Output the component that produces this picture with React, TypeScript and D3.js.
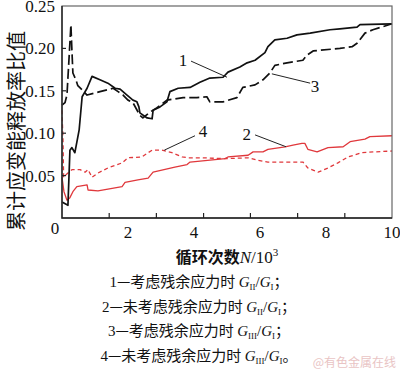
import React, { useEffect, useRef } from 'react';
import * as d3 from 'd3';

// cycles (10^3) and ratio values
const c1X = [0, 0.18, 0.24, 0.3, 0.39, 0.52, 0.61, 0.76, 0.91, 1.15, 1.39, 1.61, 1.76, 1.97, 2.15, 2.27, 2.33, 2.36, 2.58, 2.73, 2.76, 2.97, 3.18, 3.27, 3.52, 3.88, 4.18, 4.48, 4.88, 5.03, 5.39, 5.61, 5.85, 6.15, 6.24, 6.45, 6.82, 7.12, 7.52, 8.12, 8.42, 8.94, 9.03, 10];
const c1Y = [0.019, 0.015, 0.08, 0.083, 0.077, 0.104, 0.143, 0.153, 0.167, 0.163, 0.159, 0.153, 0.152, 0.145, 0.139, 0.137, 0.131, 0.124, 0.118, 0.117, 0.127, 0.131, 0.137, 0.149, 0.153, 0.154, 0.16, 0.165, 0.166, 0.172, 0.178, 0.183, 0.186, 0.195, 0.202, 0.21, 0.212, 0.216, 0.218, 0.222, 0.223, 0.225, 0.228, 0.229];

const c2X = [0, 0.06, 0.15, 0.24, 0.33, 0.45, 0.76, 0.79, 1.09, 1.52, 1.82, 1.91, 2.3, 2.61, 2.76, 3.42, 3.79, 3.88, 4.94, 5.03, 5.64, 5.79, 6.09, 6.24, 6.76, 7.0, 7.27, 7.36, 7.45, 7.73, 8.06, 8.52, 8.73, 9.18, 9.33, 10];
const c2Y = [0.048, 0.031, 0.021, 0.024, 0.031, 0.037, 0.039, 0.033, 0.032, 0.035, 0.037, 0.042, 0.045, 0.047, 0.054, 0.06, 0.063, 0.066, 0.07, 0.072, 0.074, 0.078, 0.078, 0.081, 0.084, 0.086, 0.088, 0.088, 0.081, 0.078, 0.083, 0.084, 0.09, 0.093, 0.096, 0.097];

const c3X = [0, 0.09, 0.15, 0.21, 0.27, 0.3, 0.33, 0.42, 0.48, 0.61, 0.76, 1.15, 1.55, 1.7, 1.85, 2.0, 2.15, 2.36, 2.45, 2.67, 2.88, 3.18, 3.67, 4.09, 4.39, 4.48, 4.88, 5.3, 5.48, 5.85, 6.09, 6.3, 6.45, 6.82, 7.3, 7.42, 7.61, 8.42, 8.79, 8.94, 9.18, 9.42, 10];
const c3Y = [0.133, 0.136, 0.145, 0.186, 0.228, 0.198, 0.171, 0.163, 0.156, 0.151, 0.145, 0.149, 0.153, 0.149, 0.145, 0.139, 0.136, 0.121, 0.118, 0.125, 0.13, 0.139, 0.142, 0.142, 0.143, 0.137, 0.137, 0.142, 0.154, 0.157, 0.163, 0.171, 0.18, 0.183, 0.186, 0.192, 0.197, 0.2, 0.202, 0.206, 0.218, 0.222, 0.229];

const c4X = [0, 0.03, 0.05, 0.12, 0.18, 0.3, 0.55, 0.7, 0.79, 0.91, 1.09, 1.39, 1.82, 2.0, 2.42, 2.61, 2.73, 3.03, 3.33, 3.64, 3.82, 4.24, 4.94, 5.64, 5.94, 6.24, 7.3, 7.45, 7.76, 8.06, 8.36, 8.67, 9.09, 9.48, 10];
const c4Y = [0.127, 0.092, 0.048, 0.051, 0.053, 0.057, 0.057, 0.054, 0.057, 0.048, 0.053, 0.059, 0.065, 0.071, 0.072, 0.077, 0.08, 0.08, 0.077, 0.072, 0.071, 0.071, 0.07, 0.071, 0.068, 0.066, 0.066, 0.059, 0.054, 0.059, 0.065, 0.072, 0.077, 0.078, 0.079];

const xLabels = [2, 4, 6, 8, 10];
const xTicks = [1.43, 2.86, 4.29, 5.71, 7.14, 8.57];
const yLabels = [0.05, 0.1, 0.15, 0.2, 0.25];

// curve number labels: [label, label x, label y, leader from x, y, leader to x, y]
const tags: [string, number, number, number, number, number, number][] = [
  ['1', 3.67, 0.186, 3.91, 0.185, 5.0, 0.166],
  ['3', 7.67, 0.156, 7.52, 0.159, 6.36, 0.17],
  ['4', 4.27, 0.103, 4.03, 0.097, 3.1, 0.08],
  ['2', 5.6, 0.099, 5.85, 0.098, 6.79, 0.084],
];

const legend: [string, string, string][] = [
  ['1—考虑残余应力时 ', 'II', '；'],
  ['2—未考虑残余应力时 ', 'II', '；'],
  ['3—考虑残余应力时 ', 'III', '；'],
  ['4—未考虑残余应力时 ', 'III', '。'],
];

const RED = '#e0383c';
const SERIF = '"Liberation Serif", "DejaVu Serif", serif';
const CJK = '"Noto Sans CJK SC", sans-serif';

export default function App() {
  const ref = useRef<SVGSVGElement>(null);

  useEffect(() => {
    const svg = d3.select(ref.current);
    svg.selectAll('*').remove();

    const x = d3.scaleLinear().domain([0, 10]).range([62, 392]);
    const y = d3.scaleLinear().domain([0, 0.25]).range([218, 6]);

    const draw = (xs: number[], ys: number[], color: string, width: number, dash: string | null) => {
      const pts: [number, number][] = xs.map((v, i) => [x(v), y(ys[i])]);
      svg.append('path')
        .attr('d', d3.line()(pts))
        .attr('fill', 'none')
        .attr('stroke', color)
        .attr('stroke-width', width)
        .attr('stroke-linejoin', 'round')
        .attr('stroke-dasharray', dash);
    };

    draw(c4X, c4Y, RED, 1.3, '4,3');
    draw(c2X, c2Y, RED, 1.3, null);
    draw(c3X, c3Y, '#111', 1.7, '10,4');
    draw(c1X, c1Y, '#111', 1.7, null);

    // frame
    svg.append('rect')
      .attr('x', 62).attr('y', 6).attr('width', 330).attr('height', 212)
      .attr('fill', 'none').attr('stroke', '#666').attr('stroke-width', 1.2);
    svg.append('path')
      .attr('d', `M62,6V218H392`)
      .attr('fill', 'none').attr('stroke', '#222').attr('stroke-width', 1.4);

    // ticks
    xTicks.forEach((t) => {
      svg.append('line').attr('x1', x(t)).attr('x2', x(t)).attr('y1', 218).attr('y2', 213)
        .attr('stroke', '#222').attr('stroke-width', 1.2);
    });
    yLabels.slice(0, 4).forEach((t) => {
      svg.append('line').attr('x1', 62).attr('x2', 66).attr('y1', y(t)).attr('y2', y(t))
        .attr('stroke', '#222').attr('stroke-width', 1.2);
    });

    const txt = (s: string, px: number, py: number, anchor: string, size = 17) =>
      svg.append('text').attr('x', px).attr('y', py).attr('text-anchor', anchor)
        .attr('font-family', SERIF).attr('font-size', size).attr('fill', '#111').text(s);

    yLabels.forEach((t) => txt(t.toFixed(2), 55, y(t) + 6, 'end'));
    txt('0', 55, 234, 'middle');
    xLabels.forEach((t) => txt(String(t), x(t), 238, 'middle'));

    tags.forEach(([s, lx, ly, ax, ay, bx, by]) => {
      txt(s, x(lx), y(ly) + 6, 'middle');
      svg.append('line').attr('x1', x(ax)).attr('y1', y(ay)).attr('x2', x(bx)).attr('y2', y(by))
        .attr('stroke', '#222').attr('stroke-width', 1);
    });

    // y axis title
    svg.append('text')
      .attr('transform', 'translate(24,131) rotate(-90)')
      .attr('text-anchor', 'middle')
      .attr('font-family', CJK).attr('font-size', 20).attr('fill', '#111')
      .text('累计应变能释放率比值');

    // x axis title
    const xt = svg.append('text').attr('x', 227).attr('y', 263).attr('text-anchor', 'middle')
      .attr('fill', '#111').attr('font-size', 16);
    xt.append('tspan').attr('font-family', CJK).attr('font-weight', 700).text('循环次数');
    xt.append('tspan').attr('font-family', SERIF).attr('font-style', 'italic').attr('font-size', 17).text('N');
    xt.append('tspan').attr('font-family', SERIF).attr('font-size', 17).text('/10');
    xt.append('tspan').attr('font-family', SERIF).attr('font-size', 11).attr('dy', -7).text('3');

    // legend
    legend.forEach(([head, sub, tail], i) => {
      const t = svg.append('text').attr('x', 199).attr('y', 287 + i * 24.5).attr('text-anchor', 'middle')
        .attr('fill', '#111').attr('font-size', 15);
      t.append('tspan').attr('font-family', SERIF).text(head[0]);
      t.append('tspan').attr('font-family', CJK).text(head.slice(1));
      t.append('tspan').attr('font-family', SERIF).attr('font-style', 'italic').text('G');
      t.append('tspan').attr('font-family', SERIF).attr('font-size', 9).attr('dy', 3).text(sub);
      t.append('tspan').attr('font-family', SERIF).attr('dy', -3).text('/');
      t.append('tspan').attr('font-family', SERIF).attr('font-style', 'italic').text('G');
      t.append('tspan').attr('font-family', SERIF).attr('font-size', 9).attr('dy', 3).text('I');
      t.append('tspan').attr('font-family', CJK).attr('dy', -3).text(tail);
    });

    // watermark
    svg.append('text').attr('x', 396).attr('y', 367).attr('text-anchor', 'end')
      .attr('font-family', CJK).attr('font-size', 12).attr('fill', '#e9c4c4')
      .text('@有色金属在线');
  }, []);

  return (
    <svg ref={ref} width={400} height={373}
      style={{ position: 'absolute', left: 0, top: 0, background: '#fff' }} />
  );
}
